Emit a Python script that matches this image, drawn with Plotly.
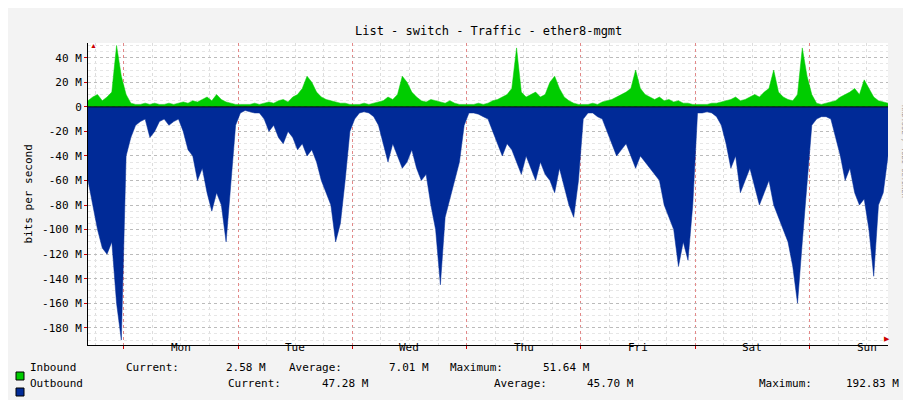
import pandas as pd
import plotly.graph_objects as go

# hourly samples, Sun 16:30 -> Sun 16:30 next week, values in Mbit/s
start = "2024-01-07 16:30"
inbound = [
    5, 8, 10, 5, 8, 12, 50, 25,
    10, 3, 2, 2, 3, 2, 3, 2, 2, 3, 2, 3, 4, 3, 5, 4, 6, 8, 5, 10, 6, 4, 3, 2,
    2, 2, 2, 3, 2, 3, 4, 3, 5, 6, 4, 8, 10, 15, 25, 20, 12, 8, 6, 5, 4, 3, 3, 2,
    2, 2, 3, 2, 3, 4, 5, 8, 6, 10, 25, 20, 12, 8, 5, 4, 6, 5, 4, 3, 5, 3, 2, 2,
    2, 2, 3, 2, 3, 5, 6, 8, 10, 15, 48, 12, 8, 10, 12, 8, 10, 20, 25, 15, 8, 5, 3, 2,
    2, 2, 3, 2, 4, 5, 6, 8, 10, 12, 15, 30, 15, 10, 8, 6, 8, 5, 6, 4, 5, 3, 3, 2,
    2, 2, 2, 3, 3, 4, 5, 6, 8, 5, 6, 8, 10, 8, 12, 15, 30, 12, 8, 6, 5, 10, 48, 25,
    10, 3, 2, 3, 4, 5, 8, 10, 12, 15, 10, 22, 15, 8, 5, 4, 3,
]
outbound = [
    -60, -80, -100, -115, -120, -110, -160, -190,
    -40, -25, -15, -12, -10, -25, -20, -12, -10, -15, -12, -10, -20, -35, -40, -60,
    -50, -70, -85, -70, -80, -110, -60, -15,
    -5, -3, -4, -5, -5, -10, -20, -15, -25, -30, -20, -25, -35, -30, -40, -35,
    -45, -60, -70, -80, -110, -95, -60, -20,
    -10, -5, -4, -5, -8, -15, -30, -45, -30, -40, -50, -45, -35, -50, -60, -55,
    -80, -100, -145, -90, -75, -60, -45, -15,
    -5, -5, -6, -8, -10, -20, -30, -40, -30, -35, -45, -55, -40, -50, -60, -45,
    -55, -60, -70, -50, -65, -80, -90, -60,
    -10, -5, -5, -8, -10, -20, -30, -40, -35, -30, -40, -50, -40, -45, -50, -55,
    -60, -80, -90, -100, -130, -110, -125, -80,
    -5, -5, -4, -5, -8, -15, -30, -50, -40, -70, -60, -50, -65, -80, -70, -60,
    -80, -90, -100, -110, -130, -160, -110, -60,
    -15, -10, -8, -8, -10, -25, -40, -60, -50, -70, -80, -75, -100, -138, -80, -70, -40,
]
day_names = ["Mon", "Tue", "Wed", "Thu", "Fri", "Sat", "Sun"]
y_ticks = [40, 20, 0, -20, -40, -60, -80, -100, -120, -140, -160, -180]
legend_rows = [
    ("Inbound", "#00CC00", [("Current:", 116, "2.58 M", 260), ("Average:", 279, "7.01 M", 423),
                            ("Maximum:", 440, "51.64 M", 584)]),
    ("Outbound", "#002A97", [("Current:", 218, "47.28 M", 363), ("Average:", 484, "45.70 M", 628),
                             ("Maximum:", 749, "192.83 M", 893)]),
]

times = pd.date_range(start, periods=len(inbound), freq="h")
midnights = pd.date_range("2024-01-08", periods=7, freq="D")
noons = midnights + pd.Timedelta(hours=12)
MONO = "DejaVu Sans Mono"
FS = 11

fig = go.Figure()
fig.add_trace(go.Scatter(x=times, y=[v * 1e6 for v in outbound], fill="tozeroy",
                         mode="lines", line=dict(color="#002A97", width=0.5),
                         fillcolor="#002A97", hoverinfo="skip"))
fig.add_trace(go.Scatter(x=times, y=[v * 1e6 for v in inbound], fill="tozeroy",
                         mode="lines", line=dict(color="#00CC00", width=0.5),
                         fillcolor="#00CC00", hoverinfo="skip"))

L, T, PW, PH = 80, 35, 800, 302


def px(x):
    return (x - L) / PW


def py(y):
    return (T + PH - y) / PH


annotations = [
    dict(text=d, x=n, y=0, xref="x", yref="paper", yshift=-11, showarrow=False,
         font=dict(family=MONO, size=FS, color="#000"))
    for d, n in zip(day_names, noons)
]
annotations.append(dict(text="List - switch - Traffic - ether8-mgmt", x=0.5, xref="paper",
                        y=py(14), yref="paper", showarrow=False,
                        font=dict(family=MONO, size=12, color="#000")))
annotations.append(dict(text="bits per second", x=px(11), xref="paper", y=0.5, yref="paper",
                        textangle=-90, showarrow=False,
                        font=dict(family=MONO, size=FS, color="#000")))
annotations.append(dict(text="RRDTOOL / TOBI OETIKER", x=px(902), xref="paper", y=py(95),
                        yref="paper", textangle=90, showarrow=False,
                        font=dict(family=MONO, size=7, color="#999")))

shapes = []
for row, (name, color, items) in enumerate(legend_rows):
    ypx = 368 + 16 * row
    shapes.append(dict(type="rect", xref="paper", yref="paper", x0=px(8), x1=px(16),
                       y0=py(ypx + 4), y1=py(ypx - 4), fillcolor=color,
                       line=dict(color="#000", width=1)))
    annotations.append(dict(text=name, x=px(20), y=py(ypx), xref="paper", yref="paper",
                            xanchor="left", showarrow=False,
                            font=dict(family=MONO, size=FS, color="#000")))
    for label, lx, val, vx in items:
        annotations.append(dict(text=label, x=px(lx), y=py(ypx), xref="paper", yref="paper",
                                xanchor="left", showarrow=False,
                                font=dict(family=MONO, size=FS, color="#000")))
        annotations.append(dict(text=val, x=px(vx), y=py(ypx), xref="paper", yref="paper",
                                xanchor="right", showarrow=False,
                                font=dict(family=MONO, size=FS, color="#000")))

# zero line and axis arrows
shapes.append(dict(type="line", xref="paper", yref="y", x0=0, x1=1, y0=0, y1=0,
                   line=dict(color="#000", width=1)))
annotations.append(dict(text="▶", x=px(884), y=py(337), xref="paper", yref="paper",
                        showarrow=False, font=dict(size=7, color="#c00")))
annotations.append(dict(text="▲", x=px(80), y=py(31), xref="paper", yref="paper",
                        showarrow=False, font=dict(size=7, color="#c00")))

fig.update_layout(
    width=911, height=400,
    margin=dict(l=L, r=911 - L - PW, t=T, b=400 - T - PH, autoexpand=False),
    paper_bgcolor="#F3F3F3", plot_bgcolor="#FFFFFF",
    showlegend=False,
    shapes=shapes, annotations=annotations,
    xaxis=dict(range=[times[0], times[-1]], tickvals=list(midnights), ticktext=[""] * 7,
               showgrid=True, gridcolor="rgba(230,80,80,0.6)", griddash="dot", gridwidth=1,
               ticks="outside", ticklen=3, tickcolor="#c00", automargin=False,
               minor=dict(dtick=6 * 3600000, tick0="2024-01-08", showgrid=True,
                          gridcolor="#ddd", griddash="dot", ticks=""),
               showline=True, linecolor="#000", zeroline=False),
    yaxis=dict(range=[-194e6, 52e6], tickvals=[v * 1e6 for v in y_ticks],
               ticktext=[f"{v} M" if v else "0" for v in y_ticks],
               tickfont=dict(family=MONO, size=FS, color="#000"), automargin=False,
               showgrid=True, gridcolor="#bbb", griddash="dot",
               minor=dict(dtick=5e6, showgrid=True, gridcolor="#e6e6e6", griddash="dot"),
               ticks="outside", ticklen=3, tickcolor="#c00",
               showline=True, linecolor="#000", zeroline=False),
)

fig.write_html("out.html")
